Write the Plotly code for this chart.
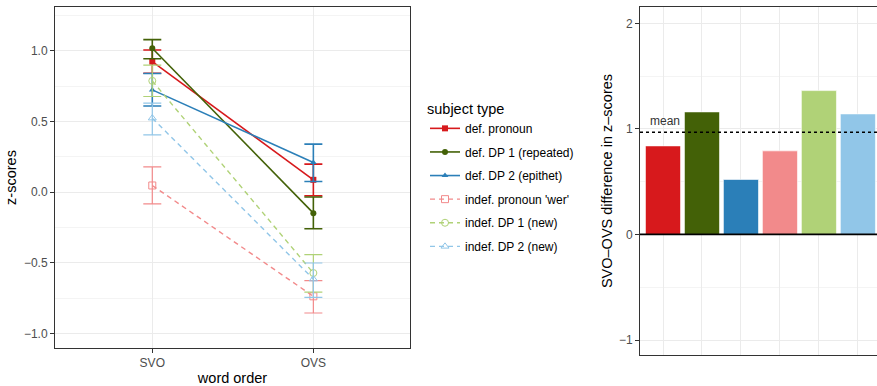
import plotly.graph_objects as go

# ---------------- data ----------------
word_order = ["SVO", "OVS"]
subject_types = ["def. pronoun", "def. DP 1 (repeated)", "def. DP 2 (epithet)",
                 "indef. pronoun 'wer'", "indef. DP 1 (new)", "indef. DP 2 (new)"]
colors = ["#D7191C", "#436107", "#2B7FB8", "#F28A8B", "#B0D277", "#91C6E8"]
symbols = ["square", "circle", "triangle-up", "square-open", "circle-open", "triangle-up-open"]
dashes = ["solid", "solid", "solid", "5px,4px", "5px,4px", "5px,4px"]

svo_mean = [0.924, 1.019, 0.724, 0.047, 0.788, 0.524]
svo_upper = [1.007, 1.080, 0.840, 0.179, 0.900, 0.630]
svo_lower = [0.842, 0.945, 0.610, -0.083, 0.677, 0.406]
ovs_mean = [0.087, -0.149, 0.210, -0.738, -0.573, -0.616]
ovs_upper = [0.198, -0.035, 0.340, -0.627, -0.443, -0.502]
ovs_lower = [-0.026, -0.259, 0.075, -0.856, -0.708, -0.745]

diff_values = [0.839, 1.161, 0.521, 0.792, 1.363, 1.142]
mean_diff = 0.969

# ---------------- figure ----------------
W, H = 877, 386
fig = go.Figure()

FONT = "Liberation Sans, Arial, sans-serif"
tick_font = dict(family=FONT, size=12, color="#4D4D4D")
title_font = dict(family=FONT, size=14.5, color="black")

for i, name in enumerate(subject_types):
    means = [svo_mean[i], ovs_mean[i]]
    ups = [svo_upper[i] - svo_mean[i], ovs_upper[i] - ovs_mean[i]]
    downs = [svo_mean[i] - svo_lower[i], ovs_mean[i] - ovs_lower[i]]
    solid = dashes[i] == "solid"
    fig.add_trace(go.Scatter(
        x=word_order, y=means, name=name, legendgroup=name,
        mode="lines+markers",
        line=dict(color=colors[i], width=1.6 if solid else 1.4, dash=dashes[i]),
        marker=dict(symbol=symbols[i], size=6 if solid else 7, color=colors[i],
                    line=dict(color=colors[i], width=1 if not solid else 0)),
        error_y=dict(type="data", symmetric=False, array=ups, arrayminus=downs,
                     color=colors[i], thickness=1.6 if solid else 1.2, width=9),
        xaxis="x", yaxis="y",
    ))

fig.add_trace(go.Bar(
    x=subject_types, y=diff_values,
    marker=dict(color=colors, line=dict(color="white", width=0.6)),
    showlegend=False, xaxis="x2", yaxis="y2",
))

# mean line and zero line on the bar panel
fig.add_shape(type="line", xref="x2 domain", yref="y2", x0=0, x1=1, y0=mean_diff, y1=mean_diff,
              line=dict(color="black", width=1.5, dash="dot"))
fig.add_shape(type="line", xref="x2 domain", yref="y2", x0=0, x1=1, y0=0, y1=0,
              line=dict(color="black", width=1.8))
fig.add_annotation(x=-0.39, y=mean_diff, xref="x2", yref="y2", text="mean", showarrow=False,
                   xanchor="left", yanchor="middle", yshift=11,
                   font=dict(family=FONT, size=12, color="#333333"))

grid = "#EBEBEB"
minor_grid = "#F4F4F4"
frame = "#333333"

fig.update_layout(
    width=W, height=H,
    margin=dict(l=0, r=0, t=0, b=0),
    paper_bgcolor="white", plot_bgcolor="white",
    font=dict(family=FONT),
    bargap=0.1,
    xaxis=dict(domain=[55 / W, 410 / W], type="category", categoryorder="array",
               categoryarray=word_order, range=[-0.604, 1.6],
               showgrid=True, gridcolor=grid, gridwidth=1.2, zeroline=False,
               showline=True, mirror=True, linecolor=frame, linewidth=1,
               ticks="outside", ticklen=4, tickcolor=frame, tickfont=tick_font,
               title=dict(text="word order", font=title_font, standoff=4),
               anchor="y"),
    yaxis=dict(domain=[1 - 348 / H, 1 - 7 / H], range=[-1.104, 1.311],
               dtick=0.5, tick0=0, tickformat=".1f",
               showgrid=True, gridcolor=grid, gridwidth=1.2, zeroline=False,
               minor=dict(dtick=0.25, tick0=0, showgrid=True, gridcolor=minor_grid, gridwidth=0.6),
               showline=True, mirror=True, linecolor=frame, linewidth=1,
               ticks="outside", ticklen=4, tickcolor=frame, tickfont=tick_font,
               title=dict(text="z-scores", font=title_font, standoff=3),
               anchor="x"),
    xaxis2=dict(domain=[640 / W, 1.0], type="category", categoryorder="array",
                categoryarray=subject_types, range=[-0.59, 5.49],
                showticklabels=False, ticks="",
                showgrid=True, gridcolor=grid, gridwidth=1.2, zeroline=False,
                showline=True, mirror=True, linecolor=frame, linewidth=1,
                anchor="y2"),
    yaxis2=dict(domain=[1 - 355 / H, 1 - 7 / H], range=[-1.142, 2.155],
                dtick=1, tick0=0,
                showgrid=True, gridcolor=grid, gridwidth=1.2, zeroline=False,
                minor=dict(dtick=0.5, tick0=0, showgrid=True, gridcolor=minor_grid, gridwidth=0.6),
                showline=True, mirror=False, linecolor=frame, linewidth=1,
                ticks="outside", ticklen=4, tickcolor=frame, tickfont=tick_font,
                title=dict(text="SVO\u2013OVS difference in z\u2013scores", font=title_font, standoff=2),
                anchor="x2"),
    legend=dict(x=425 / W, y=1 - 95 / H, xanchor="left", yanchor="top",
                title=dict(text="subject type", font=dict(size=14.5, color="black", family=FONT)),
                font=dict(size=12, color="black", family=FONT),
                tracegroupgap=4.6, itemwidth=30, bgcolor="rgba(0,0,0,0)"),
)

# remove the browser's default page margin so the figure fills the window exactly
fig.write_html("out.html", config={"displayModeBar": False},
               post_script="document.body.style.margin='0';")
